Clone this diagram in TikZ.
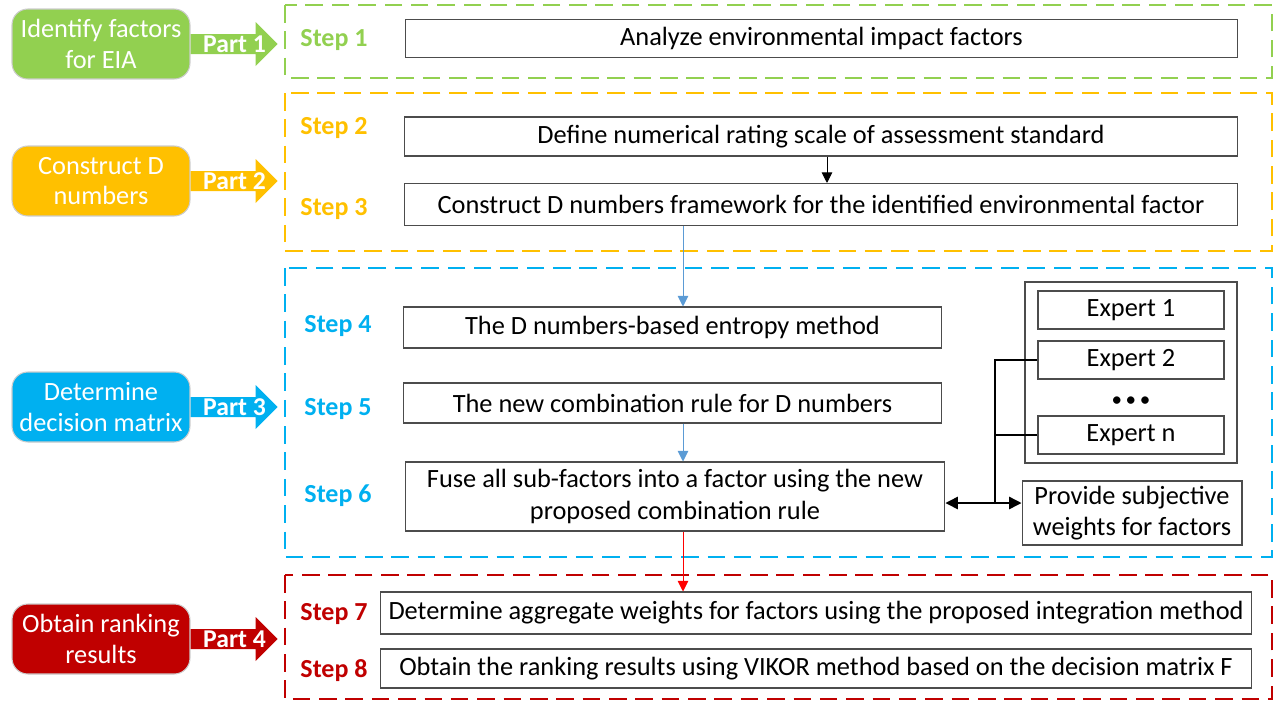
\documentclass[tikz,border=0pt]{standalone}
\usepackage{fontspec}
\setmainfont{Carlito}
\usetikzlibrary{arrows.meta}

\definecolor{cgreen}{HTML}{92D050}
\definecolor{corange}{HTML}{FFC000}
\definecolor{cblue}{HTML}{00B0F0}
\definecolor{cred}{HTML}{C00000}
\definecolor{lineblue}{HTML}{5B9BD5}
\definecolor{linered}{HTML}{FF0000}

\tikzset{
  stepbox/.style={draw=black!70, line width=0.6pt, fill=white, inner sep=0pt,
    align=center, font=\fontsize{15}{18}\selectfont},
  partbox/.style={draw=black!20, line width=0.6pt, rounded corners=9pt, text=white,
    align=center, minimum width=3.56cm, minimum height=1.4cm, inner sep=0pt,
    font=\fontsize{15}{17.6}\selectfont},
  frame/.style={line width=1.1pt, dash pattern=on 10pt off 5pt},
  steplabel/.style={font=\bfseries\fontsize{14.8}{16}\selectfont},
  flow/.style={-{Triangle[length=6pt,width=6pt]}, line width=0.5pt},
}

\begin{document}
\begin{tikzpicture}[x=0.02cm, y=-0.02cm]
  \useasboundingbox (0,0) rectangle (1279,704);

  % parts with their block arrows
  \foreach \i/\y/\col/\txt in {1/44/cgreen/{Identify factors\\for EIA},
      2/181/corange/{Construct D\\numbers},
      3/407/cblue/{Determine\\decision matrix},
      4/639/cred/{Obtain ranking\\results}} {
    \node[partbox, fill=\col] (p\i) at (101,\y) {\txt};
    \fill[\col] (p\i.east) ++(0,-10) -- ++(65,0) -- ++(0,-12) -- ++(22,22)
      -- ++(-22,22) -- ++(0,-12) -- ++(-65,0) -- cycle;
    \node[text=white, font=\bfseries\fontsize{14.6}{16}\selectfont] (a\i)
      at ([xshift=0.88cm]p\i.east) {Part \i};
  };

  % dashed frames
  \draw[frame, cgreen] (285,5) rectangle (1272,78);
  \draw[frame, corange] (285,93) rectangle (1272,251);
  \draw[frame, cblue] (285,268) rectangle (1272,557);
  \draw[frame, cred] (285,575) rectangle (1272,699);

  % step labels
  \foreach \n/\y/\col in {1/40/cgreen, 2/128/corange, 3/209/corange,
      7/614/cred, 8/671/cred} {
    \node[steplabel, text=\col] (l\n) at (334,\y) {Step \n};
  };
  \foreach \n/\y in {4/326, 5/409, 6/496} {
    \node[steplabel, text=cblue] (l\n) at (338,\y) {Step \n};
  };

  % step boxes
  \node[stepbox, minimum width=16.66cm, minimum height=0.76cm] (s1) at (821.5,38.5)
    {Analyze environmental impact factors};
  \node[stepbox, minimum width=16.68cm, minimum height=0.78cm] (s2) at (821,136.5)
    {Define numerical rating scale of assessment standard};
  \node[stepbox, minimum width=16.68cm, minimum height=0.84cm] (s3) at (821,204.5)
    {Construct D numbers framework for the identified environmental factor};
  \node[stepbox, minimum width=10.78cm, minimum height=0.82cm] (s4) at (672.5,327.5)
    {The D numbers-based entropy method};
  \node[stepbox, minimum width=10.78cm, minimum height=0.8cm] (s5) at (672.5,403)
    {The new combination rule for D numbers};
  \node[stepbox, minimum width=10.8cm, minimum height=1.38cm] (s6) at (675,496.5)
    {Fuse all sub-factors into a factor using the new\\proposed combination rule};
  \node[stepbox, minimum width=17.44cm, minimum height=0.84cm] (s7) at (816,613)
    {Determine aggregate weights for factors using the proposed integration method};
  \node[stepbox, minimum width=17.44cm, minimum height=0.78cm] (s8) at (816,668.5)
    {Obtain the ranking results using VIKOR method based on the decision matrix F};

  % experts
  \draw[black!70, line width=0.6pt] (1025,282) rectangle (1237,463);
  \node[stepbox, minimum width=3.72cm, minimum height=0.76cm] (e1) at (1131,310) {Expert 1};
  \node[stepbox, minimum width=3.72cm, minimum height=0.76cm] (e2) at (1131,360) {Expert 2};
  \node[font=\fontsize{12}{14}\selectfont] (dots) at (1131,402)
    {\textbullet\,\textbullet\,\textbullet};
  \node[stepbox, minimum width=3.72cm, minimum height=0.76cm] (en) at (1131,435) {Expert n};
  \node[stepbox, minimum width=4.4cm, minimum height=1.28cm] (pw) at (1132,513)
    {Provide subjective\\weights for factors};

  % connectors
  \coordinate (cx) at (683,0);
  \coordinate (j) at (995,503);
  \draw[flow] ([xshift=0.12cm]s2.south) -- ([xshift=0.12cm]s3.north);
  \draw[flow, lineblue] (s3.south -| cx) -- (s4.north -| cx);
  \draw[flow, lineblue] (s5.south -| cx) -- (s6.north -| cx);
  \draw[flow, linered] (s6.south -| cx) -- (s7.north -| cx);
  \draw[line width=0.8pt] (e2.west) -| (j);
  \draw[line width=0.8pt] (en.west) -| (j);
  \draw[{Triangle[length=7pt,width=7pt]}-{Triangle[length=7pt,width=7pt]}, line width=0.8pt]
    (s6.east |- j) -- (pw.west |- j);
\end{tikzpicture}
\end{document}
